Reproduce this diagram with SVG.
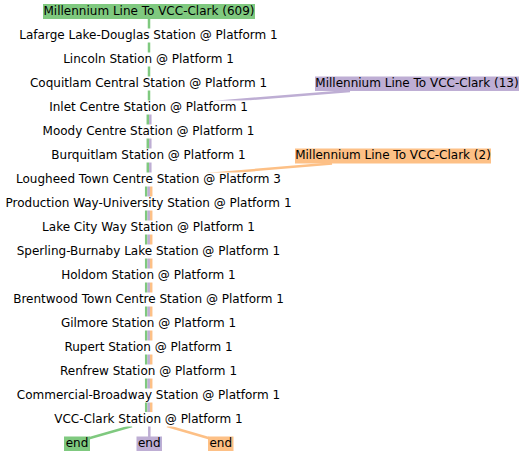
<svg xmlns="http://www.w3.org/2000/svg" width="524" height="456" viewBox="0 0 524 456">
<style>
text{font-family:"DejaVu Sans","Liberation Sans",sans-serif;font-size:12px;fill:#000;text-anchor:middle}
.bg{fill:#fff}
.g{fill:#7fc97f}
.p{fill:#beaed4}
.o{fill:#fdc086}
.eg{stroke:#7fc97f;stroke-width:2.5;fill:none}
.ep{stroke:#beaed4;stroke-width:2.5;fill:none}
.eo{stroke:#fdc086;stroke-width:2.5;fill:none}
</style>
<rect width="524" height="456" fill="#fff"/>
<g id="connectors">
<polyline class="eg" points="149,19 149,107 147.8,107 147.8,179 146.2,179 146.2,412"/>
<polyline class="ep" points="150.3,107 150.3,179 148.7,179 148.7,412"/>
<polyline class="eo" points="151.2,179 151.2,412"/>
<line class="ep" x1="350" y1="91" x2="214" y2="102"/>
<line class="eo" x1="332" y1="163.5" x2="208" y2="174"/>
<line class="eg" x1="132" y1="426" x2="86.5" y2="439"/>
<line class="ep" x1="149.3" y1="426" x2="149.3" y2="437"/>
<line class="eo" x1="167" y1="426" x2="210" y2="438.5"/>
</g>
<g id="header-609"><rect class="g" x="43" y="4" width="212" height="15"/><text x="149" y="15.3">Millennium Line To VCC-Clark (609)</text></g>
<g id="header-13"><rect class="p" x="315" y="76.5" width="204" height="14.5"/><text x="417" y="87.4">Millennium Line To VCC-Clark (13)</text></g>
<g id="header-2"><rect class="o" x="295" y="148.5" width="196" height="15"/><text x="393" y="159.4">Millennium Line To VCC-Clark (2)</text></g>
<g id="lafarge"><rect class="bg" x="18" y="28.5" width="262" height="14"/><text x="148.5" y="39.3">Lafarge Lake-Douglas Station @ Platform 1</text></g>
<g id="lincoln"><rect class="bg" x="60" y="52.5" width="177" height="14"/><text x="148.5" y="63.3">Lincoln Station @ Platform 1</text></g>
<g id="coquitlam"><rect class="bg" x="29" y="76.5" width="240" height="14"/><text x="148.5" y="87.3">Coquitlam Central Station @ Platform 1</text></g>
<g id="inlet"><rect class="bg" x="47" y="100.5" width="203" height="14"/><text x="148.5" y="111.3">Inlet Centre Station @ Platform 1</text></g>
<g id="moody"><rect class="bg" x="41" y="124.5" width="215" height="14"/><text x="148.5" y="135.3">Moody Centre Station @ Platform 1</text></g>
<g id="burquitlam"><rect class="bg" x="49" y="148.5" width="199" height="14"/><text x="148.5" y="159.3">Burquitlam Station @ Platform 1</text></g>
<g id="lougheed"><rect class="bg" x="14" y="172.5" width="270" height="14"/><text x="148.5" y="183.3">Lougheed Town Centre Station @ Platform 3</text></g>
<g id="production"><rect class="bg" x="3" y="196.5" width="291" height="14"/><text x="148.5" y="207.3">Production Way-University Station @ Platform 1</text></g>
<g id="lakecity"><rect class="bg" x="41" y="220.5" width="216" height="14"/><text x="148.5" y="231.3">Lake City Way Station @ Platform 1</text></g>
<g id="sperling"><rect class="bg" x="13" y="244.5" width="272" height="14"/><text x="148.5" y="255.3">Sperling-Burnaby Lake Station @ Platform 1</text></g>
<g id="holdom"><rect class="bg" x="58" y="268.5" width="181" height="14"/><text x="148.5" y="279.3">Holdom Station @ Platform 1</text></g>
<g id="brentwood"><rect class="bg" x="10" y="292.5" width="277" height="14"/><text x="148.5" y="303.3">Brentwood Town Centre Station @ Platform 1</text></g>
<g id="gilmore"><rect class="bg" x="58" y="316.5" width="181" height="14"/><text x="148.5" y="327.3">Gilmore Station @ Platform 1</text></g>
<g id="rupert"><rect class="bg" x="61" y="340.5" width="175" height="14"/><text x="148.5" y="351.3">Rupert Station @ Platform 1</text></g>
<g id="renfrew"><rect class="bg" x="57" y="364.5" width="183" height="14"/><text x="148.5" y="375.3">Renfrew Station @ Platform 1</text></g>
<g id="commercial"><rect class="bg" x="15" y="388.5" width="267" height="14"/><text x="148.5" y="399.3">Commercial-Broadway Station @ Platform 1</text></g>
<g id="vccclark"><rect class="bg" x="52" y="412.5" width="193" height="14"/><text x="148.5" y="423.3">VCC-Clark Station @ Platform 1</text></g>
<g id="end-green"><rect class="g" x="64" y="436.5" width="26" height="14.5"/><text x="77" y="447.4">end</text></g>
<g id="end-purple"><rect class="p" x="136.5" y="436.5" width="25.5" height="14.5"/><text x="149.2" y="447.4">end</text></g>
<g id="end-orange"><rect class="o" x="208" y="436.5" width="25.5" height="14.5"/><text x="220.8" y="447.4">end</text></g>
</svg>
